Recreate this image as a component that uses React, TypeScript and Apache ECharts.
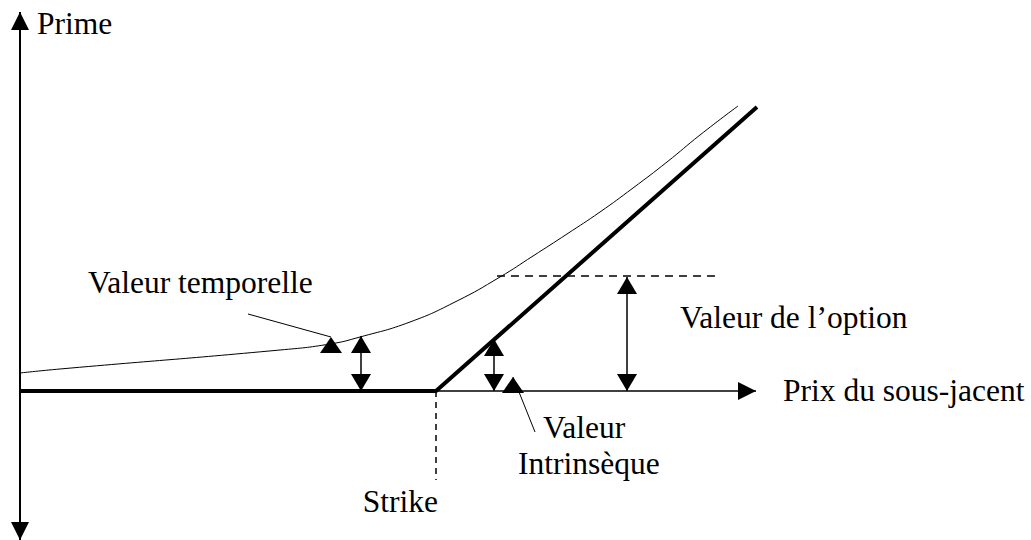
import React, { useEffect, useRef } from "react";
import * as echarts from "echarts";

// Data units: 1 unit = 1 px, origin at the axes crossing.
const strike = 416;
const intrinsicValue: number[][] = [[0, 0], [416, 0], [737, 284]];
const optionValue: number[][] = [
  [0, 18], [40, 22], [260, 41], [310, 47], [340, 54], [390, 69], [437, 90],
  [480, 114], [513, 135], [547, 157], [580, 179], [613, 203], [647, 229],
  [680, 256], [718, 285],
];
const strikeLine: number[][] = [[strike, 0], [strike, -89]];
const optionLevel: number[][] = [[477, 115], [700, 115]];
// double arrows: [x, yFrom, yTo]
const doubleArrows: number[][] = [
  [341, 0, 55],   // valeur temporelle
  [474, 0, 52],   // valeur intrinsèque
  [607, 0, 114],  // valeur de l'option
];
// pointers: [xFrom, yFrom, xTip, yTip]
const pointers: number[][] = [
  [228, 77, 311, 54],
  [515, -41, 493, 14],
];
// axes: [x1, y1, x2, y2]
const verticalAxis: number[][] = [[0, -149, 0, 379]];
const horizontalAxis: number[][] = [[416, 0, 736, 0]];

const labels = {
  prime: "Prime",
  price: "Prix du sous-jacent",
  timeValue: "Valeur temporelle",
  optionVal: "Valeur de l\u2019option",
  intrinsic1: "Valeur",
  intrinsic2: "Intrins\u00e8que",
  strike: "Strike",
};

const FONT = 'normal 31.5px "Liberation Serif", "Times New Roman", serif';

function tri(tip: number[], d: number[], L: number, W: number) {
  const bx = tip[0] - d[0] * L;
  const by = tip[1] - d[1] * L;
  const nx = -d[1];
  const ny = d[0];
  return [
    [tip[0], tip[1]],
    [bx + nx * W, by + ny * W],
    [bx - nx * W, by - ny * W],
  ];
}

function arrowSeries(
  name: string,
  data: number[][],
  opts: { L: number; W: number; lw: number; start: boolean; end: boolean; upright?: boolean }
) {
  return {
    name,
    type: "custom",
    clip: false,
    silent: true,
    data,
    renderItem: (params: any, api: any) => {
      const p1 = api.coord([api.value(0), api.value(1)]);
      const p2 = api.coord([api.value(2), api.value(3)]);
      const dx = p2[0] - p1[0];
      const dy = p2[1] - p1[1];
      const len = Math.sqrt(dx * dx + dy * dy) || 1;
      const d = [dx / len, dy / len];
      const children: any[] = [
        {
          type: "line",
          shape: { x1: p1[0], y1: p1[1], x2: p2[0], y2: p2[1] },
          style: { stroke: "#000", lineWidth: opts.lw },
        },
      ];
      if (opts.end) {
        const dir = opts.upright ? [0, -1] : d;
        children.push({
          type: "polygon",
          shape: { points: tri(p2, dir, opts.L, opts.W) },
          style: { fill: "#000" },
        });
      }
      if (opts.start) {
        children.push({
          type: "polygon",
          shape: { points: tri(p1, [-d[0], -d[1]], opts.L, opts.W) },
          style: { fill: "#000" },
        });
      }
      return { type: "group", children };
    },
  };
}

export default function App() {
  const ref = useRef<HTMLDivElement>(null);
  useEffect(() => {
    if (!ref.current) return;
    const chart = echarts.init(ref.current, undefined, { renderer: "svg" });
    const doubleArrowData = doubleArrows.map((a) => [a[0], a[1], a[0], a[2]]);
    const text = (t: string, x: number, baseline: number, align = "left") => ({
      type: "text",
      x,
      y: baseline - 10,
      silent: true,
      style: {
        text: t,
        font: FONT,
        fill: "#000",
        textAlign: align,
        textVerticalAlign: "middle",
      },
    });
    chart.setOption({
      animation: false,
      backgroundColor: "#fff",
      grid: { left: 20, right: 0, top: 0, bottom: 0 },
      xAxis: { type: "value", min: 0, max: 1011, show: false },
      yAxis: { type: "value", min: -149, max: 391, show: false },
      series: [
        {
          name: "Valeur intrinsèque",
          type: "line",
          data: intrinsicValue,
          symbol: "none",
          clip: false,
          lineStyle: { color: "#000", width: 4 },
        },
        {
          name: "Valeur de l'option",
          type: "line",
          data: optionValue,
          symbol: "none",
          smooth: 0.5,
          clip: false,
          lineStyle: { color: "#000", width: 1 },
        },
        {
          name: "Strike",
          type: "line",
          data: strikeLine,
          symbol: "none",
          lineStyle: { color: "#000", width: 1.5, type: [6, 5] },
        },
        {
          name: "Niveau",
          type: "line",
          data: optionLevel,
          symbol: "none",
          lineStyle: { color: "#000", width: 1.5, type: [8, 6] },
        },
        arrowSeries("axeY", verticalAxis, { L: 18, W: 9, lw: 2, start: true, end: true }),
        arrowSeries("axeX", horizontalAxis, { L: 18, W: 9, lw: 1.5, start: false, end: true }),
        arrowSeries("doubles", doubleArrowData, { L: 17, W: 10, lw: 1.5, start: true, end: true }),
        arrowSeries("pointeurs", pointers, { L: 16, W: 11, lw: 1, start: false, end: true, upright: true }),
      ],
      graphic: [
        text(labels.prime, 37, 33),
        text(labels.price, 783, 400),
        text(labels.timeValue, 88, 292),
        text(labels.optionVal, 680, 327),
        text(labels.intrinsic1, 543, 437),
        text(labels.intrinsic2, 518, 473),
        text(labels.strike, 438, 511, "right"),
      ],
    });
    return () => chart.dispose();
  }, []);
  return (
    <div
      ref={ref}
      style={{ position: "absolute", left: 0, top: 0, width: 1031, height: 540 }}
    />
  );
}
